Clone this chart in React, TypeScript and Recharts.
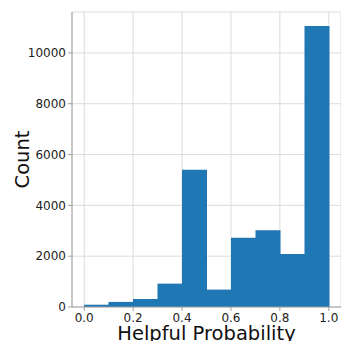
import React from 'react';
import { BarChart, Bar, XAxis, YAxis, CartesianGrid } from 'recharts';

const binStarts = [0.0, 0.1, 0.2, 0.3, 0.4, 0.5, 0.6, 0.7, 0.8, 0.9];
const counts = [90, 200, 315, 920, 5400, 685, 2730, 3020, 2090, 11060];
const xTicks = [0, 0.2, 0.4, 0.6, 0.8, 1.0];
const yTicks = [0, 2000, 4000, 6000, 8000, 10000];

const data = binStarts.map((b, i) => ({ bin: b.toFixed(1), count: counts[i] }));

const FONT = '"DejaVu Sans", sans-serif';
const SPINE = '#a0a0a0';

const App: React.FC = () => {
  return (
    <div style={{ position: 'absolute', left: 0, top: 0, width: 341, height: 341, background: '#fff' }}>
      <BarChart
        width={341}
        height={341}
        data={data}
        margin={{ top: 12, right: 0, left: 0, bottom: 0 }}
        barCategoryGap={0}
        style={{ fontFamily: FONT }}
      >
        <CartesianGrid xAxisId="num" stroke="#dcdcdc" strokeWidth={1} />
        {/* category axis for the bars, drawn at the top as the frame's top spine */}
        <XAxis
          xAxisId="cat"
          dataKey="bin"
          orientation="top"
          height={0}
          padding={{ left: 12, right: 12 }}
          tick={false}
          tickLine={false}
          axisLine={{ stroke: SPINE }}
        />
        <XAxis
          xAxisId="num"
          type="number"
          dataKey="x"
          domain={[-0.05, 1.05]}
          ticks={xTicks}
          allowDataOverflow
          height={34}
          tickFormatter={(v: number) => v.toFixed(1)}
          tick={{ fontSize: 12, fill: '#222' }}
          tickSize={4}
          tickLine={{ stroke: SPINE }}
          axisLine={{ stroke: SPINE }}
          label={{ value: 'Helpful Probability', position: 'insideBottom', offset: 1, fontSize: 19.5, fill: '#111' }}
        />
        <YAxis
          type="number"
          domain={[0, 11610]}
          ticks={yTicks}
          width={72}
          tick={{ fontSize: 12, fill: '#222' }}
          tickSize={4}
          tickLine={{ stroke: SPINE }}
          axisLine={{ stroke: SPINE }}
          label={{ value: 'Count', angle: -90, position: 'insideLeft', offset: 22, fontSize: 19.5, fill: '#111', style: { textAnchor: 'middle' } }}
        />
        <Bar xAxisId="cat" dataKey="count" fill="#1f77b4" isAnimationActive={false} />
      </BarChart>
    </div>
  );
};

export default App;
